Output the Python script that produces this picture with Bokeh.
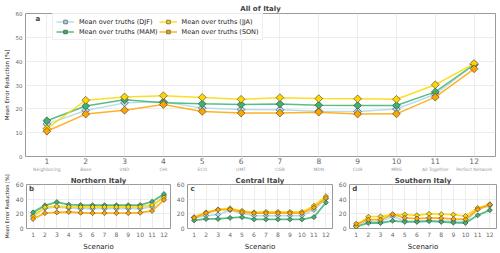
import math
from bokeh.plotting import figure
from bokeh.layouts import column, row
from bokeh.models import Legend, LegendItem, LinearAxis, FixedTicker, Range1d, Label
from bokeh.embed import file_html
from bokeh.resources import INLINE

FONT = "DejaVu Sans"

# Scenarios and their short names
scenarios = list(range(1, 13))
scenario_names = ["Neighboring", "Base", "VND", "CHI", "ECO", "UMT", "CGR",
                  "MDN", "CUR", "MRG", "All Together", "Perfect Network"]
seasons = ["DJF", "MAM", "JJA", "SON"]

# Mean error reduction [%] — all of Italy
italy_djf = [13.6, 19.3, 22.5, 23.0, 20.3, 19.7, 19.6, 19.0, 18.9, 19.9, 26.1, 38.5]
italy_mam = [15.0, 21.2, 23.8, 22.6, 22.1, 21.8, 22.0, 21.5, 21.4, 21.4, 27.1, 38.6]
italy_jja = [11.7, 23.6, 25.0, 25.5, 24.8, 24.0, 24.7, 24.3, 24.2, 24.0, 30.1, 39.0]
italy_son = [10.6, 17.8, 19.4, 21.8, 18.9, 18.2, 18.2, 18.6, 17.8, 17.9, 24.9, 36.8]

# Northern Italy
north_djf = [18.0, 27.5, 29.5, 27.8, 27.0, 27.0, 27.0, 27.0, 27.0, 27.0, 29.5, 44.5]
north_mam = [22.0, 31.5, 36.0, 32.5, 32.0, 31.8, 31.8, 31.8, 31.8, 32.0, 36.5, 47.0]
north_jja = [16.0, 29.0, 30.5, 29.5, 29.3, 29.3, 29.3, 29.3, 29.3, 29.5, 32.0, 42.0]
north_son = [13.0, 21.0, 22.0, 22.5, 21.5, 21.0, 21.0, 21.0, 21.0, 21.5, 24.0, 39.0]

# Central Italy
central_djf = [14.5, 17.5, 19.0, 25.0, 20.5, 17.5, 17.5, 17.5, 17.5, 17.5, 25.5, 41.0]
central_mam = [11.0, 13.0, 13.0, 14.5, 15.5, 12.5, 12.5, 12.5, 12.5, 12.5, 15.5, 35.5]
central_jja = [15.5, 22.0, 26.0, 27.5, 24.0, 22.0, 22.5, 22.5, 22.5, 22.5, 31.0, 44.0]
central_son = [14.5, 21.0, 25.5, 26.0, 22.5, 21.0, 21.0, 21.0, 21.0, 21.0, 28.5, 41.5]

# Southern Italy
south_djf = [4.0, 9.5, 9.5, 16.5, 10.5, 10.0, 11.0, 10.0, 10.0, 9.5, 26.5, 31.0]
south_mam = [2.5, 7.5, 7.5, 10.5, 9.0, 9.0, 10.0, 9.0, 8.0, 7.5, 18.0, 25.0]
south_jja = [3.0, 16.0, 16.5, 19.0, 19.0, 18.0, 20.0, 19.5, 19.0, 17.0, 28.0, 33.0]
south_son = [6.5, 12.0, 12.0, 19.5, 14.5, 13.5, 14.5, 14.0, 13.0, 12.5, 26.0, 32.5]

colors = {"DJF": "#add8e6", "MAM": "#3cb371", "JJA": "#ffd700", "SON": "#ffa500"}
EDGE = "#3a3a3a"
GRID = "#e8e8e8"
FRAME = "#9a9a9a"
TICK = "#666666"


def quiet_axis(ax):
    ax.axis_line_color = None
    ax.major_tick_line_color = None
    ax.minor_tick_line_color = None
    ax.major_tick_out = 0
    ax.major_tick_in = 0
    ax.minor_tick_out = 0
    ax.minor_tick_in = 0
    ax.axis_label_standoff = 0
    ax.major_label_text_font = FONT
    ax.major_label_text_color = TICK
    ax.major_label_text_line_height = 1.0
    ax.axis_label_text_font = FONT
    ax.axis_label_text_font_style = "normal"
    ax.axis_label_text_color = "#222222"
    ax.axis_label_text_line_height = 1.0


def style(p, title, yticks, tick_size, ylabel_size):
    p.title.text = title
    p.title.align = "center"
    p.title.text_font = FONT
    p.title.text_font_style = "bold"
    p.title.text_font_size = "7px"
    p.title.text_line_height = 1.0
    p.title.standoff = 1
    p.title.offset = 0
    p.outline_line_color = FRAME
    p.outline_line_width = 1
    p.grid.grid_line_color = GRID
    p.grid.grid_line_width = 0.8
    p.xaxis.ticker = FixedTicker(ticks=scenarios)
    p.yaxis.ticker = FixedTicker(ticks=yticks)
    for ax in p.axis:
        quiet_axis(ax)
        ax.major_label_standoff = 3
    p.yaxis.major_label_text_font_size = tick_size
    p.xaxis.major_label_text_font_size = tick_size
    p.yaxis.axis_label_text_font_size = ylabel_size
    p.xaxis.axis_label_text_font_size = "7px"


def draw_series(p, series, msize, lw):
    items = []
    for season, vals in zip(seasons, series):
        c = colors[season]
        ln = p.line(scenarios, vals, line_color=c, line_width=lw, line_alpha=0.85)
        sc = p.scatter(scenarios, vals, marker="square", angle=math.pi / 4, size=msize,
                       fill_color=c, line_color=EDGE, line_width=0.6)
        items.append(LegendItem(label=f"Mean over truths ({season})", renderers=[ln, sc]))
    return items


# ---- top panel: all of Italy ----
top = figure(width=500, height=174, x_range=Range1d(0.45, 12.55), y_range=Range1d(0, 60),
             output_backend="svg", toolbar_location=None,
             min_border_left=22, min_border_right=5, min_border_top=13, min_border_bottom=15)
style(top, "All of Italy", [0, 10, 20, 30, 40, 50, 60], "5.5px", "5.5px")
top.yaxis.axis_label = "Mean Error Reduction [%]"
top.yaxis.axis_label_standoff = 3
top.xaxis.major_label_text_font_size = "7.5px"
top.xaxis.major_label_standoff = 1

# scenario names written under the tick numbers
name_axis = LinearAxis(ticker=FixedTicker(ticks=scenarios),
                       major_label_overrides={i: n for i, n in zip(scenarios, scenario_names)})
quiet_axis(name_axis)
name_axis.major_label_text_font_size = "4.5px"
name_axis.major_label_text_color = "#999999"
name_axis.major_label_standoff = 0
top.add_layout(name_axis, "below")

items = draw_series(top, [italy_djf, italy_mam, italy_jja, italy_son], 5.5, 1.5)
legend = Legend(items=items, ncols=2, location=(27, 116),
                label_text_font=FONT, label_text_font_size="6.5px",
                label_text_color="#222222", glyph_width=18, glyph_height=9,
                label_height=9, spacing=1, padding=3, margin=0,
                border_line_color="#dddddd", border_line_width=0.8,
                background_fill_alpha=0.9)
top.add_layout(legend)
top.add_layout(Label(x=0.77, y=57.5, text="a", text_font=FONT, text_font_size="7px",
                     text_font_style="bold", text_baseline="middle", text_align="center"))


# ---- lower panels ----
def region_panel(width, left, right, title, series, letter, ylabel):
    p = figure(width=width, height=79, x_range=Range1d(0.45, 12.55), y_range=Range1d(0, 60),
               output_backend="svg", toolbar_location=None,
               min_border_left=left, min_border_right=right, min_border_top=9,
               min_border_bottom=20)
    style(p, title, [0, 20, 40, 60], "6px", "5px")
    p.title.standoff = 0
    p.xaxis.axis_label = "Scenario"
    p.xaxis.axis_label_standoff = 3
    p.xaxis.major_label_standoff = 3
    p.yaxis.major_label_standoff = 3
    if ylabel:
        p.yaxis.axis_label = "Mean Error Reduction [%]"
        p.yaxis.axis_label_standoff = 3
    draw_series(p, series, 3.6, 1.8)
    p.add_layout(Label(x=0.88, y=54, text=letter, text_font=FONT, text_font_size="7px",
                       text_font_style="bold", text_baseline="middle", text_align="center"))
    return p


pb = region_panel(173, 22, 3, "Northern Italy", [north_djf, north_mam, north_jja, north_son], "b", True)
pc = region_panel(162, 12, 3, "Central Italy", [central_djf, central_mam, central_jja, central_son], "c", False)
pd = region_panel(165, 12, 4, "Southern Italy", [south_djf, south_mam, south_jja, south_son], "d", False)

layout = column(top, row(pb, pc, pd, spacing=0), spacing=0)

open("out.html", "w").write(file_html(layout, INLINE))
